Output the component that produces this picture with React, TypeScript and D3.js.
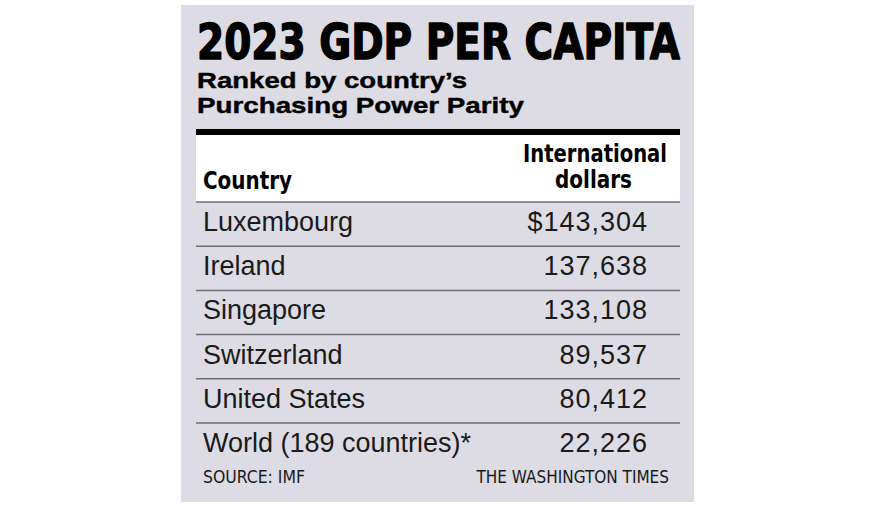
import * as d3 from "d3";
import React from "react";

const countries = [
  "Luxembourg",
  "Ireland",
  "Singapore",
  "Switzerland",
  "United States",
  "World (189 countries)*",
];
const gdpPerCapita = [143304, 137638, 133108, 89537, 80412, 22226];

const title = "2023 GDP PER CAPITA";
const subtitle = ["Ranked by country\u2019s", "Purchasing Power Parity"];
const source = "SOURCE: IMF";
const credit = "THE WASHINGTON TIMES";

const NARROW = "'Liberation Sans Narrow', 'DejaVu Sans Condensed', 'Arial Narrow', sans-serif";
const SANS = "'Liberation Sans', Arial, Helvetica, sans-serif";

export default function App() {
  const width = 878;
  const height = 511;
  const panel = { x: 181, y: 5, w: 513, h: 497 };
  const tableLeft = 196;
  const tableRight = 680;

  const y = d3
    .scaleBand<string>()
    .domain(countries)
    .range([202, 202 + countries.length * 44.2])
    .paddingInner(0)
    .paddingOuter(0);

  const fmt = d3.format(",");

  return (
    <svg
      width={width}
      height={height}
      style={{ position: "absolute", left: 0, top: 0, display: "block" }}
    >
      <rect x={0} y={0} width={width} height={height} fill="#ffffff" />
      <rect x={panel.x} y={panel.y} width={panel.w} height={panel.h} fill="#dddce4" />

      <text
        x={197}
        y={59}
        fontFamily={NARROW}
        fontWeight={700}
        fontSize={50}
        textLength={483}
        lengthAdjust="spacingAndGlyphs"
        fill="#000"
        stroke="#000"
        strokeWidth={1.4}
        strokeLinejoin="round"
      >
        {title}
      </text>
      <text x={197} y={88} fontFamily={SANS} fontWeight={700} fontSize={22} textLength={270} lengthAdjust="spacingAndGlyphs" fill="#000" stroke="#000" strokeWidth={0.4}>
        {subtitle[0]}
      </text>
      <text x={197} y={113} fontFamily={SANS} fontWeight={700} fontSize={22} textLength={327} lengthAdjust="spacingAndGlyphs" fill="#000" stroke="#000" strokeWidth={0.4}>
        {subtitle[1]}
      </text>

      {/* header */}
      <rect x={tableLeft} y={129} width={tableRight - tableLeft} height={6} fill="#000" />
      <rect x={tableLeft} y={135} width={tableRight - tableLeft} height={67} fill="#ffffff" />
      <text x={203} y={189} fontFamily={NARROW} fontWeight={700} fontSize={24} textLength={89} lengthAdjust="spacingAndGlyphs" fill="#000">
        Country
      </text>
      <text x={523} y={162} fontFamily={NARROW} fontWeight={700} fontSize={24} textLength={144} lengthAdjust="spacingAndGlyphs" fill="#000">
        International
      </text>
      <text x={555} y={188} fontFamily={NARROW} fontWeight={700} fontSize={24} textLength={77} lengthAdjust="spacingAndGlyphs" fill="#000">
        dollars
      </text>

      {countries.map((c, i) => {
        const top = y(c) ?? 0;
        return (
          <g key={c}>
            <line
              x1={tableLeft}
              x2={tableRight}
              y1={top}
              y2={top}
              stroke="#6e6e74"
              strokeWidth={1.5}
            />
            <text x={203} y={top + 29} fontFamily={SANS} fontSize={27} fill="#1a1a1a">
              {c}
            </text>
            <text
              x={648}
              y={top + 29}
              textAnchor="end"
              fontFamily={SANS}
              fontSize={27}
              letterSpacing={1}
              fill="#1a1a1a"
            >
              {(i === 0 ? "$" : "") + fmt(gdpPerCapita[i])}
            </text>
          </g>
        );
      })}

      <text x={203} y={483} fontFamily={NARROW} fontSize={17} textLength={102} lengthAdjust="spacingAndGlyphs" fill="#1a1a1a">
        {source}
      </text>
      <text x={669} y={483} textAnchor="end" fontFamily={NARROW} fontSize={17} fill="#1a1a1a">
        {credit}
      </text>
    </svg>
  );
}
